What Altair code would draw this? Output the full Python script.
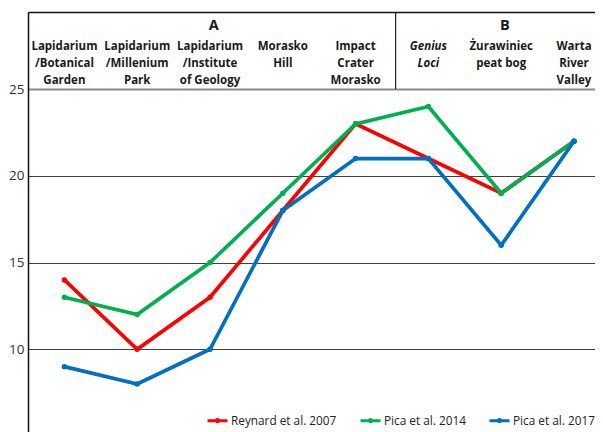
import altair as alt
import pandas as pd

# ---------------- data ----------------
categories = [
    "Lapidarium|/Botanical|Garden",
    "Lapidarium|/Millenium|Park",
    "Lapidarium|/Institute|of Geology",
    "Morasko|Hill",
    "Impact|Crater|Morasko",
    "Genius|Loci",
    "Żurawiniec|peat bog",
    "Warta|River|Valley",
]
italic_flags = [False, False, False, False, False, True, False, False]
reynard_2007 = [14, 10, 13, 18, 23, 21, 19, 22]
pica_2014 = [13, 12, 15, 19, 23, 24, 19, 22]
pica_2017 = [9, 8, 10, 18, 21, 21, 16, 22]
series_names = ["Reynard et al. 2007", "Pica et al. 2014", "Pica et al. 2017"]
series_colors = ["#ff0000", "#00b050", "#0070c0"]
group_labels = ["A", "B"]
group_members = [[0, 1, 2, 3, 4], [5, 6, 7]]
y_ticks = [5, 10, 15, 20, 25]

# ---------------- layout constants ----------------
PLOT_W, PLOT_H = 567, 424
STEP = 72.8
Y_MIN, Y_MAX = 5, 29.45
X_DOM = [-0.5, -0.5 + PLOT_W / STEP]
HEADER_LABEL_Y = 27.78
GROUP_LABEL_Y = 28.66
GROUP_SHIFT = 0.05
DIVIDER_X = 4.5 + GROUP_SHIFT
FONT = "Open Sans"

# ---------------- tables ----------------
rows = []
for name, vals in zip(series_names, [reynard_2007, pica_2014, pica_2017]):
    for i, v in enumerate(vals):
        rows.append({"idx": i, "value": v, "series": name})
df = pd.DataFrame(rows)

hdr = pd.DataFrame({"idx": list(range(len(categories))),
                    "label": categories,
                    "italic": italic_flags})
grp = pd.DataFrame({"idx": [sum(m) / len(m) + GROUP_SHIFT for m in group_members],
                    "label": group_labels})

x_scale = alt.Scale(domain=X_DOM, nice=False, zero=False)
y_scale = alt.Scale(domain=[Y_MIN, Y_MAX], nice=False, zero=False)

legend_path = ("M-1,0L1,0M-0.12,0A0.12,0.12,0,1,0,0.12,0"
               "A0.12,0.12,0,1,0,-0.12,0")

color = alt.Color(
    "series:N",
    scale=alt.Scale(domain=series_names, range=series_colors),
    legend=alt.Legend(
        orient="none", legendX=178, legendY=397, direction="horizontal",
        title=None, symbolType=legend_path, symbolSize=400,
        symbolStrokeWidth=3, labelFont=FONT, labelFontSize=11.8,
        labelColor="#222222", columnPadding=17, labelOffset=2,
    ),
)

y_axis = alt.Axis(
    values=y_ticks, grid=True, domain=True, domainColor="#111111",
    domainWidth=1.5, ticks=False, title=None,
    labelFont=FONT, labelFontSize=13.5, labelColor="#333333", labelPadding=4,
    gridColor=alt.condition("datum.value == 25", alt.value("#8a8a8a"), alt.value("#404040")),
    gridWidth=alt.condition("datum.value == 25", alt.value(2), alt.value(1)),
)
x_axis = alt.Axis(orient="top", labels=False, ticks=False, grid=False,
                  domain=True, domainColor="#111111", domainWidth=1.5, title=None)

X_ENC = alt.X("idx:Q", scale=x_scale, axis=x_axis)

layers = []
for name in series_names:
    layers.append(
        alt.Chart(df).transform_filter(alt.datum.series == name)
        .mark_line(strokeWidth=3.7, point=alt.OverlayMarkDef(filled=True, size=30))
        .encode(
            x=X_ENC,
            y=alt.Y("value:Q", scale=y_scale, axis=y_axis),
            color=color,
        )
    )

divider = alt.Chart(pd.DataFrame({"idx": [DIVIDER_X]})).mark_rule(
    color="#222222", strokeWidth=1.2
).encode(x=X_ENC, y=alt.datum(25), y2=alt.datum(Y_MAX))

hdr_normal = alt.Chart(hdr).transform_filter("!datum.italic").mark_text(
    lineBreak="|", baseline="top", align="center", fontWeight="bold",
    fontSize=11.5, font=FONT, lineHeight=17, color="#1a1a1a"
).encode(x=X_ENC, y=alt.datum(HEADER_LABEL_Y), text="label:N")

hdr_italic = alt.Chart(hdr).transform_filter("datum.italic").mark_text(
    lineBreak="|", baseline="top", align="center", fontWeight="bold",
    fontStyle="italic", fontSize=11.5, font=FONT, lineHeight=17, color="#1a1a1a"
).encode(x=X_ENC, y=alt.datum(HEADER_LABEL_Y), text="label:N")

grp_text = alt.Chart(grp).mark_text(
    baseline="middle", align="center", fontWeight="bold", fontSize=14.5,
    font=FONT, color="#1a1a1a"
).encode(x=X_ENC, y=alt.datum(GROUP_LABEL_Y), text="label:N")

chart = alt.layer(*layers, divider, hdr_normal, hdr_italic, grp_text).properties(
    width=PLOT_W, height=PLOT_H,
    autosize=alt.AutoSizeParams(type="none"),
    padding={"left": 20, "top": 4, "right": 0, "bottom": 0},
).configure_view(stroke=None)

chart.save("out.html", embed_options={"renderer": "svg", "actions": False})
